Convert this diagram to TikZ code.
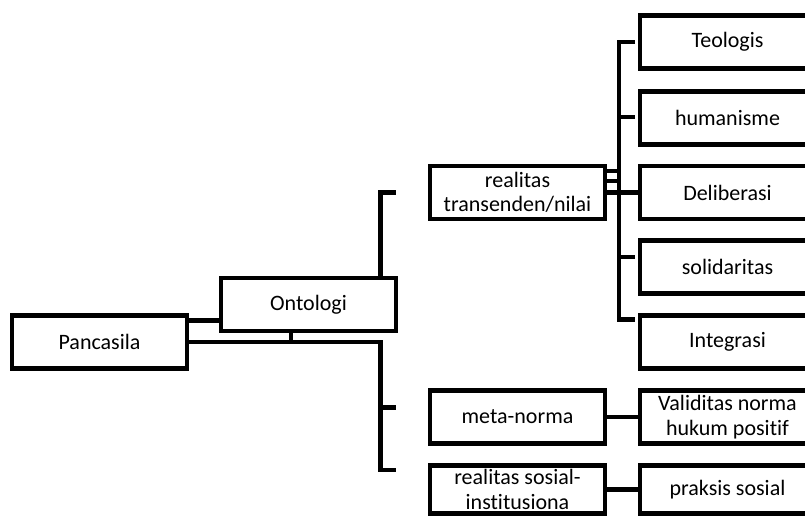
\documentclass[tikz,border=0pt]{standalone}
\usepackage{fontspec}
\setmainfont[Ligatures=NoCommon]{Carlito}
\begin{document}
\begin{tikzpicture}[x=1pt, y=-1pt,
    box/.style={draw, rectangle, line width=4.5pt, minimum width=175pt, minimum height=53pt,
                align=center, inner sep=0pt, font=\fontsize{22}{24.5}\selectfont},
    link/.style={line width=4.5pt}]
    \useasboundingbox (0,0) rectangle (805,517);

    \node[box] (pancasila) at (99.5,342) {Pancasila};
    \node[box] (ontologi) at (308.5,304.5) {Ontologi};

    \node[box] (transenden) at (517.5,192.5) {realitas\\transenden/nilai};
    \node[box] (metanorma) at (517.5,417) {meta-norma};
    \node[box, minimum height=48pt] (sosial) at (517.5,489.5) {realitas sosial-\\institusiona};

    \node[box] (teologis) at (727.5,42) {Teologis};
    \node[box] (humanisme) at (727.5,118) {humanisme};
    \node[box] (deliberasi) at (727.5,192.5) {Deliberasi};
    \node[box] (solidaritas) at (727.5,267) {solidaritas};
    \node[box] (integrasi) at (727.5,342) {Integrasi};
    \node[box] (validitas) at (727.5,417) {Validitas norma\\hukum positif};
    \node[box, minimum height=48pt] (praksis) at (727.5,489.5) {praksis sosial};

    % bracket points
    \coordinate (lowbar) at (380.5,342);
    \coordinate (ontostub) at (291,342);
    \coordinate (transtub) at (396,192.5);
    \coordinate (metastub) at (396,407.5);
    \coordinate (sosialstub) at (396,470);
    \coordinate (rbar) at (619,192.5);
    \coordinate (teostub) at (635,42);
    \coordinate (humstub) at (635,117);
    \coordinate (solstub) at (635,257);
    \coordinate (intstub) at (635,319.5);

    \draw[link] ([yshift=21.5pt]pancasila.east) -- ([yshift=-16pt]ontologi.west);
    \draw[link] (pancasila.east) -- (lowbar) |- (sosialstub);
    \draw[link] (lowbar |- metastub) -- (metastub);
    \draw[link] (ontostub |- ontologi.south) -- (ontostub);
    \draw[link] (lowbar |- ontologi.north) |- (transtub);

    \draw[link] (teostub) -| (rbar) |- (intstub);
    \draw[link] (rbar |- humstub) -- (humstub);
    \draw[link] (rbar |- solstub) -- (solstub);
    \draw[link] ([yshift=21.5pt]transenden.east) -| (rbar);
    \draw[link] ([yshift=11.5pt]transenden.east) -- ([yshift=11.5pt]rbar);
    \draw[link] (transenden) -- (deliberasi);

    \draw[link] (metanorma) -- (validitas);
    \draw[link] (sosial) -- (praksis);
\end{tikzpicture}
\end{document}
